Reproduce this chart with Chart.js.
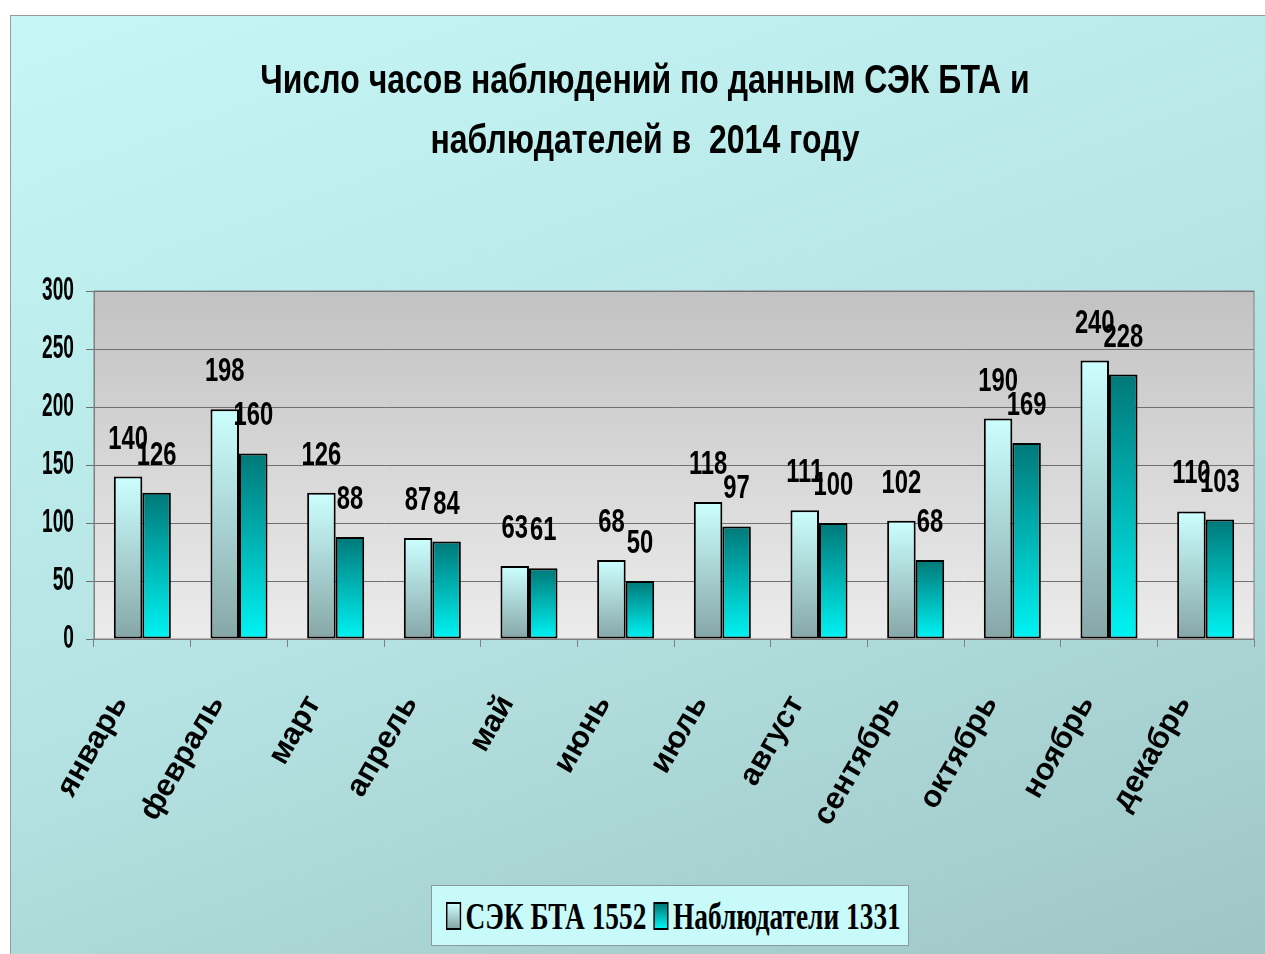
<!DOCTYPE html>
<html>
<head>
<meta charset="utf-8">
<script src="https://cdn.jsdelivr.net/npm/chart.js@4.4.1/dist/chart.umd.min.js"></script>
<style>
  body { margin: 0; background: #ffffff; }
  #frame {
    position: absolute; left: 10px; top: 15px; width: 1255px; height: 939px;
    background: linear-gradient(160deg, #c6f6f6 0%, #b6e4e4 50%, #9fc6c6 100%);
    border-top: 1px solid #9a9a9a; border-left: 1px solid #9a9a9a;
    box-sizing: border-box;
  }
  #myChart { position: absolute; left: 0; top: 0; }
  #legend {
    position: absolute; left: 420px; top: 869px; width: 478px; height: 61px;
    background: #c8fafa; border: 1px solid #8a9a9a; box-sizing: border-box;
    display: flex; align-items: center; justify-content: center; overflow: visible;
  }
  #legend .inner {
    flex-shrink: 0; white-space: nowrap;
    font-family: "Liberation Serif", "DejaVu Serif", serif; font-weight: bold; font-size: 38px;
    transform: scaleX(0.72); transform-origin: center center;
    display: flex; align-items: center;
  }
  #legend span.box {
    display: inline-block; flex-shrink: 0; width: 17px; height: 24px;
    border: 2px solid #000; margin: 0 6px 0 10px;
  }
</style>
</head>
<body>
<div id="frame">
  <canvas id="myChart" width="1255" height="939"></canvas>
  <div id="legend"><div class="inner" id="legendInner"></div></div>
</div>
<script>
// categories and values
var months = ['январь', 'февраль', 'март', 'апрель', 'май', 'июнь', 'июль', 'август', 'сентябрь', 'октябрь', 'ноябрь', 'декабрь'];
var sekValues = [140, 198, 126, 87, 63, 68, 118, 111, 102, 190, 240, 110];
var observerValues = [126, 160, 88, 84, 61, 50, 97, 100, 68, 169, 228, 103];
var seriesNames = ['СЭК БТА 1552', 'Наблюдатели 1331'];
var titleLines = ['Число часов наблюдений по данным СЭК БТА и', 'наблюдателей в  2014 году'];

var sans = '"Liberation Sans", Arial, sans-serif';

// draws text squeezed horizontally (the original uses a very narrow font)
function narrowText(ctx, text, x, y, sx) {
  ctx.save();
  ctx.translate(x, y);
  ctx.scale(sx, 1);
  ctx.fillText(text, 0, 0);
  ctx.restore();
}

// gradient per bar, from its top down to zero
function barGradient(top, bottom) {
  return function (context) {
    var chart = context.chart;
    var y = chart.scales.y;
    if (!y || !chart.chartArea || context.type !== 'data') return top;
    var y0 = y.getPixelForValue(context.parsed.y);
    var y1 = y.getPixelForValue(0);
    if (y1 - y0 < 1) return top;
    var g = chart.ctx.createLinearGradient(0, y0, 0, y1);
    g.addColorStop(0, top);
    g.addColorStop(1, bottom);
    return g;
  };
}

// grey plot background
var plotBackground = {
  id: 'plotBackground',
  beforeDraw: function (chart) {
    var a = chart.chartArea, ctx = chart.ctx;
    var g = ctx.createLinearGradient(0, a.top, 0, a.bottom);
    g.addColorStop(0, '#c2c2c2');
    g.addColorStop(1, '#ececec');
    ctx.save();
    ctx.fillStyle = g;
    ctx.fillRect(a.left, a.top, a.right - a.left, a.bottom - a.top);
    ctx.strokeStyle = '#808080';
    ctx.lineWidth = 1;
    ctx.strokeRect(a.left, a.top, a.right - a.left, a.bottom - a.top);
    ctx.restore();
  }
};

// title, y tick labels and value labels in a narrow face
var narrowLabels = {
  id: 'narrowLabels',
  afterDraw: function (chart) {
    var ctx = chart.ctx;
    ctx.save();
    ctx.fillStyle = '#000';
    ctx.textBaseline = 'alphabetic';

    // title
    ctx.font = 'bold 40px ' + sans;
    ctx.textAlign = 'center';
    var cx = (chart.chartArea.left + chart.chartArea.right) / 2 - 29;
    titleLines.forEach(function (line, i) {
      narrowText(ctx, line, cx, 77 + i * 60, 0.8);
    });

    // y tick labels
    var ys = chart.scales.y;
    ctx.font = 'bold 33px ' + sans;
    ctx.textAlign = 'right';
    ctx.textBaseline = 'middle';
    ys.ticks.forEach(function (t, i) {
      narrowText(ctx, String(t.value), ys.left + 63, ys.getPixelForTick(i), 0.58);
    });

    // values above bars
    ctx.font = 'bold 34px ' + sans;
    ctx.textAlign = 'center';
    ctx.textBaseline = 'alphabetic';
    chart.data.datasets.forEach(function (ds, i) {
      chart.getDatasetMeta(i).data.forEach(function (bar, j) {
        narrowText(ctx, ds.data[j], bar.x, bar.y - 28, 0.7);
      });
    });
    ctx.restore();
  }
};

var data = {
  labels: months,
  datasets: [
    {
      label: seriesNames[0],
      data: sekValues,
      backgroundColor: barGradient('#ccffff', '#86a6a6'),
      borderColor: '#000',
      borderWidth: 2,
      borderSkipped: false
    },
    {
      label: seriesNames[1],
      data: observerValues,
      backgroundColor: barGradient('#007878', '#00f4f4'),
      borderColor: '#000',
      borderWidth: 2,
      borderSkipped: false
    }
  ]
};

var options = {
  responsive: false,
  animation: false,
  layout: { padding: { top: 275, right: 12, bottom: 80, left: 0 } },
  datasets: { bar: { categoryPercentage: 0.59, barPercentage: 1 } },
  plugins: {
    legend: { display: false },
    tooltip: { enabled: false },
    title: { display: false }
  },
  scales: {
    x: {
      grid: { display: true, drawOnChartArea: false, drawTicks: true, tickLength: 8, color: '#808080', offset: true },
      border: { color: '#808080', width: 1 },
      ticks: {
        color: '#000', minRotation: 60, maxRotation: 60, padding: 42, labelOffset: -22,
        font: { family: sans, size: 31, weight: 'bold' }
      },
      afterFit: function (scale) { scale.height = 236; scale.paddingRight = 0; scale.paddingLeft = 0; }
    },
    y: {
      min: 0, max: 300,
      grid: { color: '#707070', drawTicks: true, tickLength: 8 },
      border: { color: '#808080' },
      ticks: { stepSize: 50, display: false },
      afterFit: function (scale) { scale.width = 83; }
    }
  }
};

var ctx = document.getElementById('myChart').getContext('2d');
var chart = new Chart(ctx, {
  type: 'bar',
  data: data,
  options: options,
  plugins: [plotBackground, narrowLabels]
});

// legend
var legendBoxes = ['linear-gradient(#ccffff, #86a6a6)', 'linear-gradient(#007878, #00f4f4)'];
var legendHtml = '';
seriesNames.forEach(function (name, i) {
  legendHtml += '<span class="box" style="background:' + legendBoxes[i] + '"></span><span>' + name + '</span>';
});
document.getElementById('legendInner').innerHTML = legendHtml;
</script>
</body>
</html>
